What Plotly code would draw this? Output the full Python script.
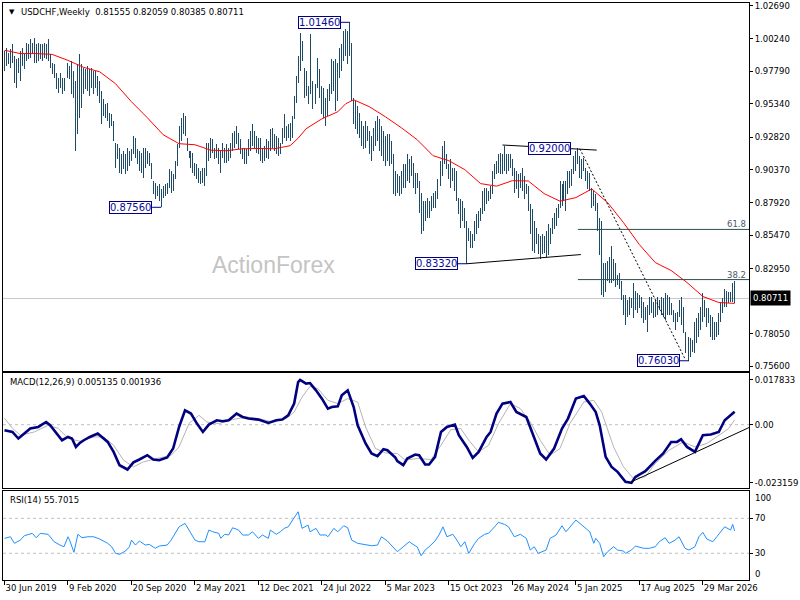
import plotly.graph_objects as go

# ---------------- data ----------------
symbol = "USDCHF"
timeframe = "Weekly"
last_open = 0.81555
last_close = 0.80711

date_tick_weeks = [0, 32, 64, 96, 128, 160, 192, 224, 256, 288, 320, 352]
date_tick_labels = ["30 Jun 2019", "9 Feb 2020", "20 Sep 2020", "2 May 2021", "12 Dec 2021",
                    "24 Jul 2022", "5 Mar 2023", "15 Oct 2023", "26 May 2024", "5 Jan 2025",
                    "17 Aug 2025", "29 Mar 2026"]
price_ticks = [1.02690, 1.00240, 0.97790, 0.95340, 0.92820, 0.90370, 0.87920,
               0.85470, 0.82950, 0.78050, 0.75600]
macd_ticks = [0.017833, 0.0, -0.023159]
macd_tick_labels = ["0.017833", "0.00", "-0.023159"]
rsi_ticks = [70, 30]
rsi_edge_ticks = [100, 0]

high = [
    0.9931, 0.9954, 0.9916, 0.9946, 0.9984, 0.9894, 0.9871, 0.9879, 0.9931, 0.9954,
    0.9909, 0.9991, 0.9984, 1.0021, 0.9991, 1.0029, 0.9984, 0.9991, 0.9984, 0.9984,
    0.9991, 0.9984, 1.0021, 0.9909, 0.9841, 0.9834, 0.9766, 0.9729, 0.9766, 0.9729,
    0.9729, 0.9804, 0.9841, 0.9819, 0.9856, 0.9781, 0.9706, 0.9834, 0.9909, 0.9834,
    0.9804, 0.9796, 0.9819, 0.9796, 0.9804, 0.9781, 0.9781, 0.9744, 0.9706, 0.9631,
    0.9571, 0.9534, 0.9541, 0.9466, 0.9459, 0.9406, 0.9241, 0.9234, 0.9204, 0.9159,
    0.9181, 0.9159, 0.9204, 0.9181, 0.9196, 0.9294, 0.9279, 0.9196, 0.9181, 0.9166,
    0.9204, 0.9204, 0.9181, 0.9166, 0.9091, 0.8956, 0.8941, 0.8919, 0.8934, 0.8896,
    0.8919, 0.8934, 0.8941, 0.9046, 0.9031, 0.9009, 0.9106, 0.9234, 0.9369, 0.9429,
    0.9466, 0.9444, 0.9279, 0.9181, 0.9181, 0.9166, 0.9091, 0.9084, 0.9054, 0.9031,
    0.9054, 0.9054, 0.9241, 0.9241, 0.9279, 0.9271, 0.9204, 0.9234, 0.9204, 0.9181,
    0.9241, 0.9204, 0.9234, 0.9204, 0.9241, 0.9316, 0.9331, 0.9369, 0.9316, 0.9271,
    0.9204, 0.9204, 0.9196, 0.9271, 0.9331, 0.9384, 0.9331, 0.9294, 0.9279, 0.9279,
    0.9204, 0.9219, 0.9271, 0.9256, 0.9346, 0.9354, 0.9309, 0.9294, 0.9279, 0.9241,
    0.9354, 0.9459, 0.9369, 0.9384, 0.9391, 0.9444, 0.9594, 0.9744, 0.9894, 1.0066,
    1.0006, 0.9804, 0.9781, 0.9669, 1.0059, 0.9706, 0.9654, 0.9684, 0.9879, 0.9796,
    0.9669, 0.9654, 0.9579, 0.9646, 0.9684, 0.9871, 0.9856, 0.9871, 0.9841, 0.9954,
    0.9984, 1.0081, 1.0096, 1.0081, 1.0146, 0.9991, 0.9579, 0.9556, 0.9519, 0.9466,
    0.9406, 0.9369, 0.9406, 0.9369, 0.9331, 0.9294, 0.9354, 0.9406, 0.9444, 0.9421,
    0.9369, 0.9331, 0.9294, 0.9309, 0.9309, 0.9256, 0.9159, 0.9031, 0.9009, 0.8994,
    0.9031, 0.9084, 0.9084, 0.9159, 0.9121, 0.9144, 0.9091, 0.9016, 0.9016, 0.8956,
    0.8866, 0.8806, 0.8806, 0.8829, 0.8806, 0.8844, 0.8866, 0.8881, 0.8971, 0.8979,
    0.9106, 0.9219, 0.9256, 0.9159, 0.9084, 0.9121, 0.9054, 0.9054, 0.9031, 0.8829,
    0.8821, 0.8806, 0.8754, 0.8656, 0.8604, 0.8581, 0.8559, 0.8656, 0.8709, 0.8731,
    0.8754, 0.8881, 0.8904, 0.8904, 0.8881, 0.8919, 0.9031, 0.9084, 0.9106, 0.9159,
    0.9166, 0.9159, 0.9220, 0.9159, 0.9159, 0.9159, 0.9121, 0.9054, 0.9031, 0.9009,
    0.9016, 0.9054, 0.8994, 0.8934, 0.8919, 0.8784, 0.8746, 0.8656, 0.8604, 0.8559,
    0.8544, 0.8559, 0.8544, 0.8581, 0.8634, 0.8604, 0.8679, 0.8716, 0.8754, 0.8784,
    0.8956, 0.8934, 0.8956, 0.8956, 0.9031, 0.9031, 0.9046, 0.9144, 0.9181, 0.9200,
    0.9144, 0.9121, 0.9129, 0.9054, 0.9031, 0.9016, 0.8904, 0.8881, 0.8859, 0.8791,
    0.8679, 0.8656, 0.8334, 0.8341, 0.8356, 0.8379, 0.8469, 0.8371, 0.8334, 0.8244,
    0.8259, 0.8206, 0.8094, 0.8094, 0.8056, 0.8079, 0.8071, 0.8184, 0.8131, 0.8109,
    0.8094, 0.8079, 0.8041, 0.8004, 0.8019, 0.8079, 0.8079, 0.8041, 0.8056, 0.8079,
    0.8056, 0.8079, 0.8071, 0.8109, 0.8094, 0.8079, 0.8034, 0.7981, 0.7959, 0.7966,
    0.8056, 0.8079, 0.8004, 0.7816, 0.7779, 0.7779, 0.7771, 0.7756, 0.7891, 0.7921,
    0.7959, 0.8004, 0.8109, 0.8056, 0.7996, 0.7996, 0.7944, 0.7929, 0.7891, 0.7891,
    0.7959, 0.8034, 0.8071, 0.8146, 0.8131, 0.8116, 0.8116, 0.8191, 0.82059,
]
low = [
    0.9781, 0.9819, 0.9834, 0.9804, 0.9841, 0.9691, 0.9654, 0.9766, 0.9706, 0.9819,
    0.9796, 0.9856, 0.9871, 0.9879, 0.9909, 0.9841, 0.9841, 0.9856, 0.9871, 0.9856,
    0.9879, 0.9871, 0.9856, 0.9804, 0.9759, 0.9729, 0.9646, 0.9616, 0.9654, 0.9609,
    0.9631, 0.9669, 0.9729, 0.9721, 0.9609, 0.9579, 0.9181, 0.9309, 0.9429, 0.9504,
    0.9609, 0.9646, 0.9631, 0.9594, 0.9654, 0.9609, 0.9654, 0.9594, 0.9541, 0.9384,
    0.9444, 0.9429, 0.9406, 0.9354, 0.9369, 0.9256, 0.9054, 0.9121, 0.9016, 0.9009,
    0.9046, 0.9009, 0.9031, 0.9069, 0.9106, 0.9159, 0.9129, 0.9084, 0.9031, 0.9016,
    0.8979, 0.9054, 0.9084, 0.9069, 0.8971, 0.8859, 0.8821, 0.8844, 0.8806, 0.8756,
    0.8829, 0.8844, 0.8859, 0.8904, 0.8866, 0.8881, 0.8971, 0.9069, 0.9204, 0.9256,
    0.9309, 0.9294, 0.9181, 0.9129, 0.9054, 0.9016, 0.8994, 0.8971, 0.8941, 0.8934,
    0.8941, 0.8919, 0.8994, 0.9106, 0.9129, 0.9166, 0.9121, 0.9129, 0.9084, 0.9016,
    0.9129, 0.9091, 0.9091, 0.9106, 0.9129, 0.9181, 0.9204, 0.9234, 0.9196, 0.9159,
    0.9121, 0.9084, 0.9084, 0.9144, 0.9181, 0.9219, 0.9196, 0.9166, 0.9159, 0.9106,
    0.9091, 0.9106, 0.9129, 0.9121, 0.9181, 0.9204, 0.9181, 0.9159, 0.9144, 0.9159,
    0.9234, 0.9279, 0.9256, 0.9279, 0.9256, 0.9279, 0.9421, 0.9541, 0.9691, 0.9781,
    0.9856, 0.9579, 0.9594, 0.9534, 0.9609, 0.9496, 0.9504, 0.9534, 0.9654, 0.9579,
    0.9459, 0.9429, 0.9369, 0.9444, 0.9556, 0.9609, 0.9631, 0.9481, 0.9556, 0.9729,
    0.9781, 0.9856, 0.9894, 0.9834, 0.9894, 0.9556, 0.9384, 0.9346, 0.9309, 0.9279,
    0.9219, 0.9196, 0.9204, 0.9256, 0.9159, 0.9106, 0.9181, 0.9219, 0.9256, 0.9181,
    0.9144, 0.9106, 0.9069, 0.9106, 0.9069, 0.9084, 0.8859, 0.8844, 0.8866, 0.8844,
    0.8859, 0.8904, 0.8904, 0.8956, 0.8941, 0.8994, 0.8904, 0.8859, 0.8904, 0.8716,
    0.8559, 0.8581, 0.8656, 0.8679, 0.8679, 0.8731, 0.8754, 0.8754, 0.8821, 0.8866,
    0.8919, 0.8994, 0.9084, 0.9046, 0.8971, 0.8904, 0.8956, 0.8881, 0.8806, 0.8709,
    0.8604, 0.8656, 0.8604, 0.8332, 0.8506, 0.8454, 0.8454, 0.8506, 0.8559, 0.8604,
    0.8656, 0.8709, 0.8731, 0.8784, 0.8806, 0.8821, 0.8859, 0.8971, 0.9009, 0.9016,
    0.9009, 0.9009, 0.9031, 0.9009, 0.9031, 0.9054, 0.8994, 0.8866, 0.8896, 0.8829,
    0.8904, 0.8881, 0.8821, 0.8859, 0.8731, 0.8559, 0.8431, 0.8416, 0.8484, 0.8409,
    0.8371, 0.8409, 0.8416, 0.8379, 0.8394, 0.8484, 0.8559, 0.8596, 0.8619, 0.8679,
    0.8754, 0.8769, 0.8806, 0.8731, 0.8859, 0.8904, 0.8919, 0.9009, 0.9031, 0.9084,
    0.8979, 0.8971, 0.9031, 0.8956, 0.8896, 0.8881, 0.8754, 0.8769, 0.8731, 0.8581,
    0.8394, 0.8094, 0.8079, 0.8116, 0.8206, 0.8184, 0.8184, 0.8206, 0.8154, 0.8169,
    0.8146, 0.8056, 0.7944, 0.7869, 0.7929, 0.7944, 0.7996, 0.7921, 0.7981, 0.7959,
    0.7996, 0.7921, 0.7884, 0.7906, 0.7816, 0.7944, 0.7959, 0.7921, 0.7929, 0.7944,
    0.7981, 0.7944, 0.7929, 0.7906, 0.7944, 0.7944, 0.7944, 0.7891, 0.7831, 0.7891,
    0.7929, 0.7869, 0.7809, 0.7659, 0.7681, 0.7603, 0.7629, 0.7666, 0.7659, 0.7734,
    0.7779, 0.7831, 0.7891, 0.7929, 0.7854, 0.7884, 0.7779, 0.7756, 0.7756, 0.7779,
    0.7794, 0.7891, 0.7959, 0.8004, 0.8004, 0.8034, 0.8041, 0.8041, 0.80385,
]

ma_weeks = [0, 8, 16, 24, 32, 40, 48, 56, 64, 72, 80, 88, 96, 104, 112, 120, 128, 136, 144,
            148, 152, 160, 168, 172, 176, 184, 192, 200, 208, 216, 224, 232, 240, 248, 256,
            264, 272, 280, 288, 296, 304, 312, 320, 328, 336, 344, 352, 360, 368]
ma_vals = [0.9936, 0.9911, 0.9911, 0.9905, 0.9860, 0.9807, 0.9774, 0.9684, 0.9549, 0.9429,
           0.9301, 0.9234, 0.9226, 0.9185, 0.9181, 0.9196, 0.9198, 0.9196, 0.9219,
           0.9275, 0.9346, 0.9421, 0.9474, 0.9534, 0.9564, 0.9511, 0.9436, 0.9354, 0.9264,
           0.9144, 0.9106, 0.9039, 0.8934, 0.8915, 0.8956, 0.8954, 0.8859, 0.8802, 0.8829,
           0.8894, 0.8791, 0.8641, 0.8476, 0.8341, 0.8281, 0.8191, 0.8086, 0.8041, 0.8034]

macd_weeks = [0, 4, 7, 10, 13, 17, 21, 23, 27, 29, 32, 34, 36, 38, 40, 43, 47, 48, 52, 55,
              58, 62, 65, 68, 72, 75, 78, 82, 85, 88, 91, 94, 97, 100, 103, 107, 110, 113,
              117, 120, 123, 128, 133, 137, 140, 143, 146, 148, 149, 152, 154, 157, 160,
              163, 165, 168, 170, 173, 176, 178, 182, 185, 188, 191, 193, 197, 198, 201,
              203, 207, 209, 212, 214, 217, 220, 223, 227, 229, 233, 236, 239, 243, 245,
              248, 251, 255, 258, 263, 267, 270, 273, 277, 281, 284, 288, 292, 295, 298,
              300, 303, 306, 309, 313, 316, 318, 323, 328, 332, 336, 339, 341, 344, 348,
              352, 356, 360, 363, 367, 368]
macd_vals = [-0.00222, -0.00290, -0.00552, -0.00353, -0.00155, -0.00091, 0.00107, -0.00024,
             -0.00421, -0.00619, -0.00488, -0.00552, -0.00885, -0.00727, -0.00619, -0.00488,
             -0.00353, -0.00421, -0.00687, -0.01084, -0.01612, -0.01783, -0.01500, -0.01386,
             -0.01215, -0.01386, -0.01413, -0.01306, -0.00949, -0.00091, 0.00572, 0.00441,
             0.00044, -0.00290, 0.00004, 0.00175, 0.00135, 0.00175, 0.00441, 0.00306,
             0.00242, 0.00202, 0.00067, 0.00175, 0.00202, 0.00373, 0.00838, 0.01695,
             0.017833, 0.01632, 0.01655, 0.01366, 0.01036, 0.00639, 0.00703, 0.00730,
             0.01167, 0.01366, 0.00703, -0.00024, -0.00750, -0.01147, -0.01255, -0.00977,
             -0.01016, -0.01306, -0.01450, -0.01612, -0.01346, -0.01187, -0.01215, -0.01584,
             -0.01584, -0.01282, -0.00290, -0.00091, 0.00004, -0.00421, -0.00885, -0.01322,
             -0.01084, -0.00488, -0.00290, 0.00441, 0.00838, 0.00901, 0.00504, 0.00306,
             -0.00488, -0.01147, -0.01386, -0.00949, -0.00155, 0.00242, 0.01036, 0.01139,
             0.00838, 0.00504, -0.00024, -0.01282, -0.01679, -0.01878, -0.02275, -0.023159,
             -0.02076, -0.01850, -0.01441, -0.01147, -0.00687, -0.00687, -0.00580, -0.00885,
             -0.01084, -0.00421, -0.00393, -0.00290, 0.00175, 0.00441, 0.005135]

signal_weeks = [0, 4, 8, 15, 22, 27, 32, 38, 45, 50, 55, 60, 65, 70, 77, 84, 88, 93, 98, 102,
                108, 115, 122, 128, 135, 142, 146, 150, 154, 158, 163, 168, 173, 178, 182,
                187, 192, 198, 202, 208, 215, 220, 225, 230, 234, 239, 244, 249, 255, 260,
                265, 270, 275, 280, 285, 292, 297, 301, 307, 312, 317, 323, 328, 335, 342,
                348, 354, 360, 365, 368]
signal_vals = [0.00254, -0.00143, -0.00421, -0.00290, -0.00024, -0.00143, -0.00540, -0.00659,
               -0.00488, -0.00488, -0.00818, -0.01413, -0.01679, -0.01481, -0.01346, -0.01215,
               -0.00885, 0.00044, 0.00373, 0.00107, 0.00044, 0.00202, 0.00306, 0.00242,
               0.00107, 0.00242, 0.00504, 0.01100, 0.01524, 0.01433, 0.00969, 0.00838,
               0.01036, 0.00901, -0.00091, -0.00949, -0.01124, -0.01147, -0.01413, -0.01346,
               -0.01386, -0.00818, -0.00195, -0.00155, -0.00619, -0.01084, -0.00818, 0.00044,
               0.00838, 0.00639, 0.00107, -0.00619, -0.01215, -0.00949, 0.00044, 0.00901,
               0.00969, 0.00504, -0.00885, -0.01679, -0.02140, -0.02076, -0.01544, -0.01016,
               -0.00687, -0.00885, -0.00750, -0.00421, -0.00155, 0.001936]

rsi_weeks = [0, 3, 5, 8, 10, 14, 16, 18, 22, 25, 28, 30, 32, 33, 35, 37, 39, 42, 45, 48, 52,
             54, 56, 58, 61, 63, 64, 66, 68, 71, 73, 76, 78, 82, 84, 86, 88, 91, 93, 96, 98,
             101, 103, 105, 108, 109, 111, 113, 115, 118, 120, 123, 125, 128, 130, 133, 134,
             137, 139, 141, 143, 146, 148, 150, 153, 154, 157, 159, 162, 163, 166, 168, 171,
             173, 175, 178, 182, 185, 188, 190, 193, 195, 198, 199, 201, 204, 207, 208, 210,
             212, 214, 217, 219, 221, 223, 226, 228, 230, 232, 234, 237, 239, 242, 244, 247,
             249, 252, 254, 257, 260, 263, 265, 267, 269, 273, 275, 278, 281, 283, 285, 288,
             291, 293, 295, 297, 298, 300, 302, 304, 307, 309, 312, 313, 316, 318, 322, 325,
             328, 330, 333, 335, 338, 340, 343, 345, 348, 350, 352, 354, 357, 359, 361, 363,
             366, 367, 368]
rsi_vals = [47.1, 48.9, 41.4, 45.1, 50.1, 52.8, 47.8, 52.8, 51.7, 43.2, 39.4, 37.5, 48.9, 44.0,
            31.1, 51.7, 47.8, 48.9, 48.9, 46.3, 41.4, 37.5, 29.9, 28.8, 32.6, 37.5, 45.1, 39.4,
            44.0, 39.4, 40.2, 35.7, 38.3, 39.4, 45.1, 52.8, 60.3, 64.2, 56.6, 45.1, 43.2, 43.2,
            56.6, 54.6, 52.8, 47.1, 51.7, 50.9, 59.2, 56.6, 50.9, 50.9, 54.6, 47.1, 50.9, 47.1,
            56.6, 51.7, 54.6, 58.5, 60.3, 69.9, 77.5, 58.5, 62.3, 54.6, 58.5, 50.9, 50.9, 48.9,
            58.5, 54.6, 61.5, 59.2, 45.1, 41.4, 39.4, 38.6, 39.4, 48.9, 44.0, 38.6, 31.8, 33.7,
            37.5, 43.2, 38.6, 37.5, 27.2, 33.7, 37.5, 44.0, 50.9, 60.3, 48.9, 51.7, 45.1, 37.5,
            43.2, 29.9, 41.4, 47.1, 51.7, 52.8, 60.3, 65.4, 63.1, 60.3, 48.9, 51.7, 47.1, 33.7,
            37.5, 29.9, 33.7, 47.1, 50.9, 61.5, 54.6, 60.3, 68.0, 62.3, 58.5, 54.6, 41.4, 47.1,
            41.4, 26.1, 31.8, 37.5, 33.7, 32.6, 29.9, 33.7, 38.3, 35.7, 35.7, 37.5, 43.2, 47.8,
            41.4, 45.1, 48.9, 35.7, 33.7, 37.5, 48.9, 53.9, 46.3, 43.2, 48.9, 54.6, 60.3, 56.6,
            63.1, 55.7015]

# labelled swing points (week index, price)
swing_weeks = [174, 79, 233, 289, 345]
swing_levels = [1.0146, 0.8756, 0.8332, 0.9200, 0.7603]

# hand-drawn objects on the chart (week index, value)
top_line_weeks = [251, 298.5]
top_line_vals = [0.9224, 0.9186]
base_line_weeks = [233, 290.5]
base_line_vals = [0.8332, 0.8401]
dotted_weeks = [290, 343]
dotted_vals = [0.9195, 0.7617]
fib_levels = [38.2, 61.8]
macd_trend_weeks = [316, 375.25]
macd_trend_vals = [-0.02275, -0.00115]

# ---------------- styles ----------------
BAR_COLOR = "#1D4A66"
NAVY = "#000080"
LABEL_BLUE = "#0A0A9A"
GRID_GREY = "#C0C0C0"
FONT = "DejaVu Sans"
XR = [-0.75, 375.25]

fig = go.Figure()

# price bars: high-low ranges drawn as thin bars from low to high
weeks = list(range(len(high)))
ranges = [h - l for h, l in zip(high, low)]
fig.add_trace(go.Bar(x=weeks, y=ranges, base=low, width=0.5,
                     marker=dict(color=BAR_COLOR, line=dict(width=0)),
                     xaxis="x", yaxis="y", hoverinfo="skip"))
# moving average
fig.add_trace(go.Scatter(x=ma_weeks, y=ma_vals, mode="lines", line=dict(color="#FF0000", width=1),
                         xaxis="x", yaxis="y", hoverinfo="skip"))
# trendlines
fig.add_trace(go.Scatter(x=top_line_weeks, y=top_line_vals, mode="lines",
                         line=dict(color="black", width=1), xaxis="x", yaxis="y"))
fig.add_trace(go.Scatter(x=base_line_weeks, y=base_line_vals, mode="lines",
                         line=dict(color="black", width=1), xaxis="x", yaxis="y"))
fig.add_trace(go.Scatter(x=dotted_weeks, y=dotted_vals, mode="lines",
                         line=dict(color="black", width=1, dash="2px,2px"), xaxis="x", yaxis="y"))

# MACD panel
fig.add_trace(go.Scatter(x=signal_weeks, y=signal_vals, mode="lines",
                         line=dict(color="#B4B4B4", width=1), xaxis="x2", yaxis="y2"))
fig.add_trace(go.Scatter(x=macd_weeks, y=macd_vals, mode="lines",
                         line=dict(color=NAVY, width=2.6), xaxis="x2", yaxis="y2"))
fig.add_trace(go.Scatter(x=macd_trend_weeks, y=macd_trend_vals, mode="lines",
                         line=dict(color="black", width=1), xaxis="x2", yaxis="y2"))

# RSI panel
fig.add_trace(go.Scatter(x=rsi_weeks, y=rsi_vals, mode="lines",
                         line=dict(color="#1E90FF", width=1), xaxis="x3", yaxis="y3"))

shapes = []
# current price line
shapes.append(dict(type="line", xref="x", yref="y", x0=XR[0], x1=XR[1], y0=last_close,
                   y1=last_close, line=dict(color="#C8C8C8", width=1), layer="below"))
# fibonacci retracement lines
fib_hi, fib_lo = swing_levels[3], swing_levels[4]
fib_prices = [fib_lo + p / 100.0 * (fib_hi - fib_lo) for p in fib_levels]
for fp in fib_prices:
    shapes.append(dict(type="line", xref="x", yref="y", x0=swing_weeks[3], x1=XR[1],
                       y0=fp, y1=fp, line=dict(color="#2F4F4F", width=1)))
# connectors from labels to swing bars
for k in [0, 1, 2, 4]:
    shapes.append(dict(type="line", xref="x", yref="y", x0=swing_weeks[k] - 4.6,
                       x1=swing_weeks[k], y0=swing_levels[k], y1=swing_levels[k],
                       line=dict(color=NAVY, width=1)))
# dashed reference lines
shapes.append(dict(type="line", xref="x2", yref="y2", x0=XR[0], x1=XR[1], y0=0, y1=0,
                   line=dict(color=GRID_GREY, width=1, dash="3px,3px"), layer="below"))
for lv in rsi_ticks:
    shapes.append(dict(type="line", xref="x3", yref="y3", x0=XR[0], x1=XR[1], y0=lv, y1=lv,
                       line=dict(color=GRID_GREY, width=1, dash="3px,3px"), layer="below"))

ann = []
# swing labels
for k in [0, 1, 2, 4]:
    ann.append(dict(x=swing_weeks[k] - 4.6, y=swing_levels[k], xref="x", yref="y",
                    text=f"{swing_levels[k]:.5f}", showarrow=False, xanchor="right",
                    yanchor="middle", bgcolor="white", bordercolor=NAVY, borderwidth=1,
                    borderpad=0, font=dict(family=FONT, size=10, color=LABEL_BLUE)))
ann.append(dict(x=sum(top_line_weeks) / 2, y=swing_levels[3], xref="x", yref="y",
                text=f"{swing_levels[3]:.5f}", showarrow=False, xanchor="center",
                yanchor="middle", bgcolor="white", bordercolor=NAVY, borderwidth=1,
                borderpad=0, font=dict(family=FONT, size=10, color=LABEL_BLUE)))
# fib labels
for p, fp in zip(fib_levels, fib_prices):
    ann.append(dict(x=XR[1], y=fp, xref="x", yref="y", text=f"{p:.1f}", showarrow=False,
                    xanchor="right", yanchor="bottom", xshift=-1, yshift=-2,
                    font=dict(family=FONT, size=8.5, color="#4A5A6A")))
# header
ann.append(dict(x=0.006, y=0.9846, xref="paper", yref="paper", text="▼", showarrow=False,
                xanchor="left", yanchor="middle", font=dict(family=FONT, size=7, color="black")))
ann.append(dict(x=0.0213, y=0.9846, xref="paper", yref="paper",
                text=f"{symbol},{timeframe}  {last_open:.5f} {high[-1]:.5f} {low[-1]:.5f} {last_close:.5f}",
                showarrow=False, xanchor="left", yanchor="middle",
                font=dict(family=FONT, size=8.5, color="black")))
ann.append(dict(x=0.0066, y=0.3431, xref="paper", yref="paper",
                text=f"MACD(12,26,9) {macd_vals[-1]:.6f} {signal_vals[-1]:.6f}",
                showarrow=False, xanchor="left", yanchor="middle",
                font=dict(family=FONT, size=8.5, color="black")))
ann.append(dict(x=0.0066, y=0.1384, xref="paper", yref="paper",
                text=f"RSI(14) {rsi_vals[-1]:.4f}",
                showarrow=False, xanchor="left", yanchor="middle",
                font=dict(family=FONT, size=8.5, color="black")))
# watermark
ann.append(dict(x=0.363, y=0.5467, xref="paper", yref="paper", text="ActionForex",
                showarrow=False, xanchor="center", yanchor="middle",
                font=dict(family="Liberation Sans", size=23, color="#C4C4C4")))
# current price tag on the axis
ann.append(dict(x=1, y=last_close, xref="paper", yref="y", text=f"{last_close:.5f}",
                showarrow=False, xanchor="left", yanchor="middle", xshift=1, bgcolor="black",
                borderpad=2, font=dict(family=FONT, size=8.5, color="white")))
# RSI edge labels
for v, sh in zip(rsi_edge_ticks, [-6, 6]):
    ann.append(dict(x=1, y=v, xref="paper", yref="y3", text=str(v), showarrow=False,
                    xanchor="left", yanchor="middle", xshift=4, yshift=sh,
                    font=dict(family=FONT, size=8.5, color="black")))

axis_common = dict(showgrid=False, zeroline=False, showline=True, linecolor="black",
                   linewidth=1, mirror=True)
tickfont = dict(family=FONT, size=8.5, color="black")

fig.update_layout(
    width=800, height=600,
    margin=dict(l=2, r=46, t=2, b=20, pad=0),
    paper_bgcolor="white", plot_bgcolor="white",
    showlegend=False, hovermode=False, bargap=0,
    font=dict(family=FONT, size=8.5, color="black"),
    xaxis=dict(domain=[0, 1], anchor="y", range=XR, showticklabels=False, ticks="", **axis_common),
    xaxis2=dict(domain=[0, 1], anchor="y2", range=XR, matches="x", showticklabels=False,
                ticks="", **axis_common),
    xaxis3=dict(domain=[0, 1], anchor="y3", range=XR, matches="x", tickmode="array",
                tickvals=date_tick_weeks, ticktext=date_tick_labels, ticks="outside",
                ticklen=4, tickcolor="black", ticklabelposition="outside right",
                tickfont=tickfont, **axis_common),
    yaxis=dict(domain=[0.3616, 1], anchor="x", side="right", range=[0.75235, 1.0291],
               tickmode="array", tickvals=price_ticks, tickformat=".5f", ticks="outside",
               ticklen=3, tickcolor="black", tickfont=tickfont, **axis_common),
    yaxis2=dict(domain=[0.1592, 0.3581], anchor="x2", side="right", range=[-0.025249, 0.020406],
                tickmode="array", tickvals=macd_ticks, ticktext=macd_tick_labels,
                ticks="outside", ticklen=3, tickcolor="black", tickfont=tickfont, **axis_common),
    yaxis3=dict(domain=[0, 0.154], anchor="x3", side="right", range=[-0.57, 101.1],
                tickmode="array", tickvals=rsi_ticks, ticks="outside", ticklen=3,
                tickcolor="black", tickfont=tickfont, **axis_common),
    shapes=shapes,
    annotations=ann,
)

fig.write_html("out.html", config={"displayModeBar": False, "staticPlot": True},
               post_script="document.body.style.margin='0px';")
